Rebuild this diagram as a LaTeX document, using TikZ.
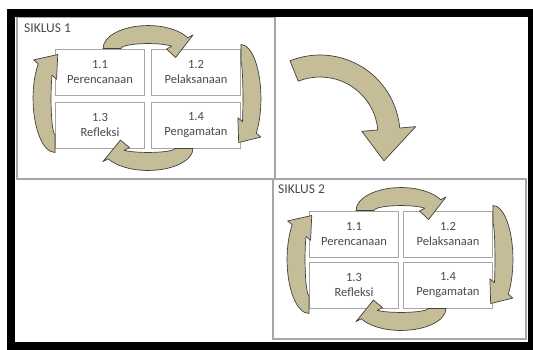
\documentclass[tikz,border=0pt]{standalone}
\usepackage{fontspec}
\setmainfont{Carlito}
\usepackage{xcolor}
\usepackage{tikz}
\usetikzlibrary{calc}

\definecolor{tan}{HTML}{C4BD97}
\definecolor{inkgray}{HTML}{4A4A4A}

% curved band arrow: centre, x radius, y radius, band half width,
% head half width, start angle, head base angle, tip angle
\newcommand{\bandarrow}[8]{%
  \filldraw[bandarr] ([shift={#1}]#6:{#2+#4} and {#3+#4})
    arc[start angle=#6,end angle=#7,x radius={#2+#4},y radius={#3+#4}]
    -- ([shift={#1}]#7:{#2+#5} and {#3+#5})
    -- ([shift={#1}]#8:#2 and #3)
    -- ([shift={#1}]#7:{#2-#5} and {#3-#5})
    -- ([shift={#1}]#7:{#2-#4} and {#3-#4})
    arc[start angle=#7,end angle=#6,x radius={#2-#4},y radius={#3-#4}]
    -- cycle;}

\begin{document}
\begin{tikzpicture}[x=1pt,y=1pt,
  phase/.style={draw=black!35,line width=0.9pt,fill=white,minimum width=89pt,
                minimum height=46pt,align=center,text=inkgray,
                font=\fontsize{12.5}{15}\selectfont},
  cycle/.style={draw=black!35,line width=1.2pt},
  title/.style={anchor=west,text=inkgray,inner sep=0pt,font=\fontsize{13.5}{15}\selectfont},
  bandarr/.style={fill=tan,draw=black!75,line width=0.7pt,line join=round}
]
\useasboundingbox (0,0) rectangle (533,-349);
\fill[white] (0,0) rectangle (533,-349);

% siklus 1
\draw[cycle] (17,-17) rectangle (275,-179);
\node[title] (s1) at (24,-28) {SIKLUS 1};
\node[phase] (p11) at (100,-72) {1.1\\Perencanaan};
\node[phase] (p12) at (196,-72) {1.2\\Pelaksanaan};
\node[phase] (p13) at (100,-125) {1.3\\Refleksi};
\node[phase] (p14) at (196,-125) {1.4\\Pengamatan};
\coordinate (t1) at ($(p11.north)!0.5!(p12.north)$);
\coordinate (r1) at ($(p12.east)!0.5!(p14.east)$);
\coordinate (b1) at ($(p13.south)!0.5!(p14.south)$);
\coordinate (l1) at ($(p11.west)!0.5!(p13.west)$);
\bandarrow{(t1)}{36}{14}{9}{15}{180}{28}{-40}
\bandarrow{(r1)}{11}{45}{9}{15}{90}{-40}{-102}
\bandarrow{(b1)}{36}{13}{9}{15}{0}{-152}{-220}
\bandarrow{(l1)}{13}{45}{9}{15}{-90}{-220}{-282}

% siklus 2
\draw[cycle] (273,-179) rectangle (526,-339);
\node[title] (s2) at (278,-189) {SIKLUS 2};
\node[phase] (q11) at (354,-234) {1.1\\Perencanaan};
\node[phase] (q12) at (448,-234) {1.2\\Pelaksanaan};
\node[phase] (q13) at (354,-285) {1.3\\Refleksi};
\node[phase] (q14) at (448,-285) {1.4\\Pengamatan};
\coordinate (t2) at ($(q11.north)!0.5!(q12.north)$);
\coordinate (r2) at ($(q12.east)!0.5!(q14.east)$);
\coordinate (b2) at ($(q13.south)!0.5!(q14.south)$);
\coordinate (l2) at ($(q11.west)!0.5!(q13.west)$);
\bandarrow{(t2)}{36}{14}{9}{15}{180}{28}{-40}
\bandarrow{(r2)}{11}{45}{9}{15}{90}{-40}{-102}
\bandarrow{(b2)}{36}{13}{9}{15}{0}{-152}{-220}
\bandarrow{(l2)}{13}{45}{9}{15}{-90}{-220}{-282}

% from siklus 1 to siklus 2
\coordinate (mid) at (320,-135);
\bandarrow{(mid)}{69}{69}{11}{27}{112}{5}{-22}

% black frame
\draw[line width=8pt] (11,-13) rectangle (532,-346);
\end{tikzpicture}
\end{document}
